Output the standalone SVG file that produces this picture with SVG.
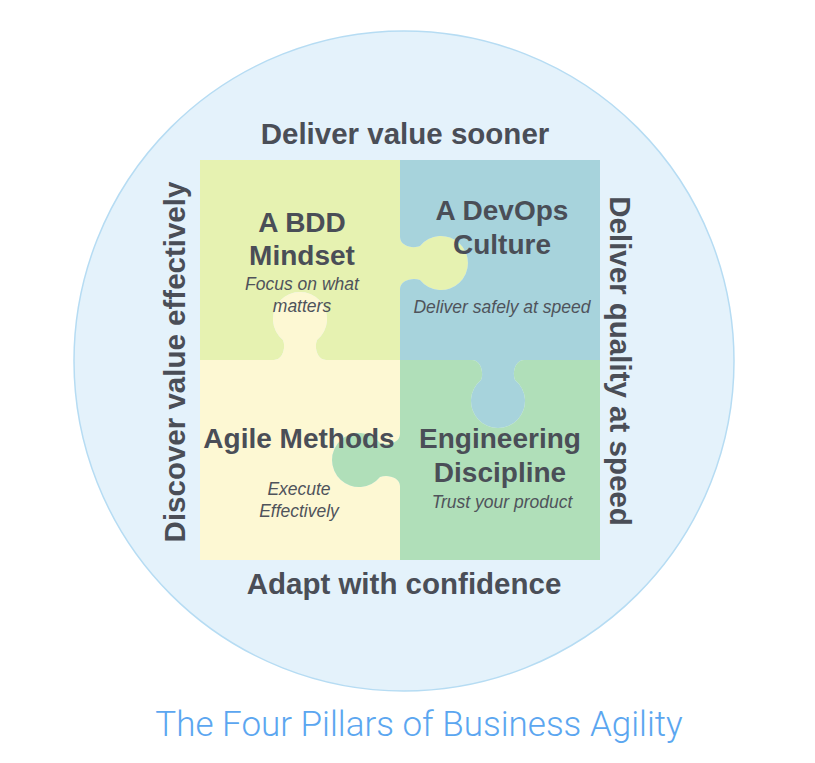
<svg xmlns="http://www.w3.org/2000/svg" width="815" height="763" viewBox="0 0 815 763">
<style>
.head{font-family:"Liberation Sans",Arial,sans-serif;font-weight:bold;font-size:28px;fill:#4a4e57;text-anchor:middle}
.sub{font-family:"Liberation Sans",Arial,sans-serif;font-style:italic;font-size:17.5px;fill:#4f535b;text-anchor:middle}
.outer{font-family:"Liberation Sans",Arial,sans-serif;font-weight:bold;font-size:29.5px;fill:#4a4e57;text-anchor:middle}
.title{font-family:Roboto,"Liberation Sans",Arial,sans-serif;font-weight:300;font-size:35px;fill:#5ba6f0;text-anchor:middle}
</style>
<rect width="815" height="763" fill="#ffffff"/>
<g id="background">
<circle cx="404" cy="361" r="330" fill="#e4f2fb" stroke="#b6dcf3" stroke-width="1.5"/>
</g>
<g id="bdd">
<path fill="#e6f2b1" d="M200,160 H400 V237 C400,246 413,249 420,246 A27 27 0 1 1 420,280 C413,277 400,280 400,289 V360 H326 C317,360 314,347 317,340 A27 27 0 1 0 283,340 C286,347 283,360 274,360 H200 Z"/>
</g>
<g id="devops">
<path fill="#a7d3dc" d="M400,160 H600 V360 H524 C515,360 512,373 515,380 A27 27 0 1 1 481,380 C484,373 481,360 472,360 H400 V289 C400,280 413,277 420,280 A27 27 0 1 0 420,246 C413,249 400,246 400,237 Z"/>
</g>
<g id="agile">
<path fill="#fdf8d3" d="M200,360 H274 C283,360 286,347 283,340 A27 27 0 1 1 317,340 C314,347 317,360 326,360 H400 V434 C400,443 387,446 380,443 A27 27 0 1 0 380,477 C387,474 400,477 400,486 V560 H200 Z"/>
</g>
<g id="engineering">
<path fill="#b0dfb9" d="M400,360 H472 C481,360 484,373 481,380 A27 27 0 1 0 515,380 C512,373 515,360 524,360 H600 V560 H400 V486 C400,477 387,474 380,477 A27 27 0 1 1 380,443 C387,446 400,443 400,434 Z"/>
</g>
<g id="bdd-text">
<text class="head" x="302" y="232">A BDD</text>
<text class="head" x="302" y="265">Mindset</text>
<text class="sub" x="302" y="290">Focus on what</text>
<text class="sub" x="302" y="312">matters</text>
</g>
<g id="devops-text">
<text class="head" x="502" y="220">A DevOps</text>
<text class="head" x="502" y="254">Culture</text>
<text class="sub" x="502" y="313">Deliver safely at speed</text>
</g>
<g id="agile-text">
<text class="head" x="299" y="448">Agile Methods</text>
<text class="sub" x="299" y="495">Execute</text>
<text class="sub" x="299" y="517">Effectively</text>
</g>
<g id="engineering-text">
<text class="head" x="500" y="448">Engineering</text>
<text class="head" x="500" y="482">Discipline</text>
<text class="sub" x="502" y="508">Trust your product</text>
</g>
<g id="outer-labels">
<text class="outer" x="405" y="144">Deliver value sooner</text>
<text class="outer" x="404" y="594">Adapt with confidence</text>
<text class="outer" transform="translate(185,362) rotate(-90)">Discover value effectively</text>
<text class="outer" transform="translate(610,361) rotate(90)">Deliver quality at speed</text>
</g>
<text class="title" x="419" y="736">The Four Pillars of Business Agility</text>
</svg>
